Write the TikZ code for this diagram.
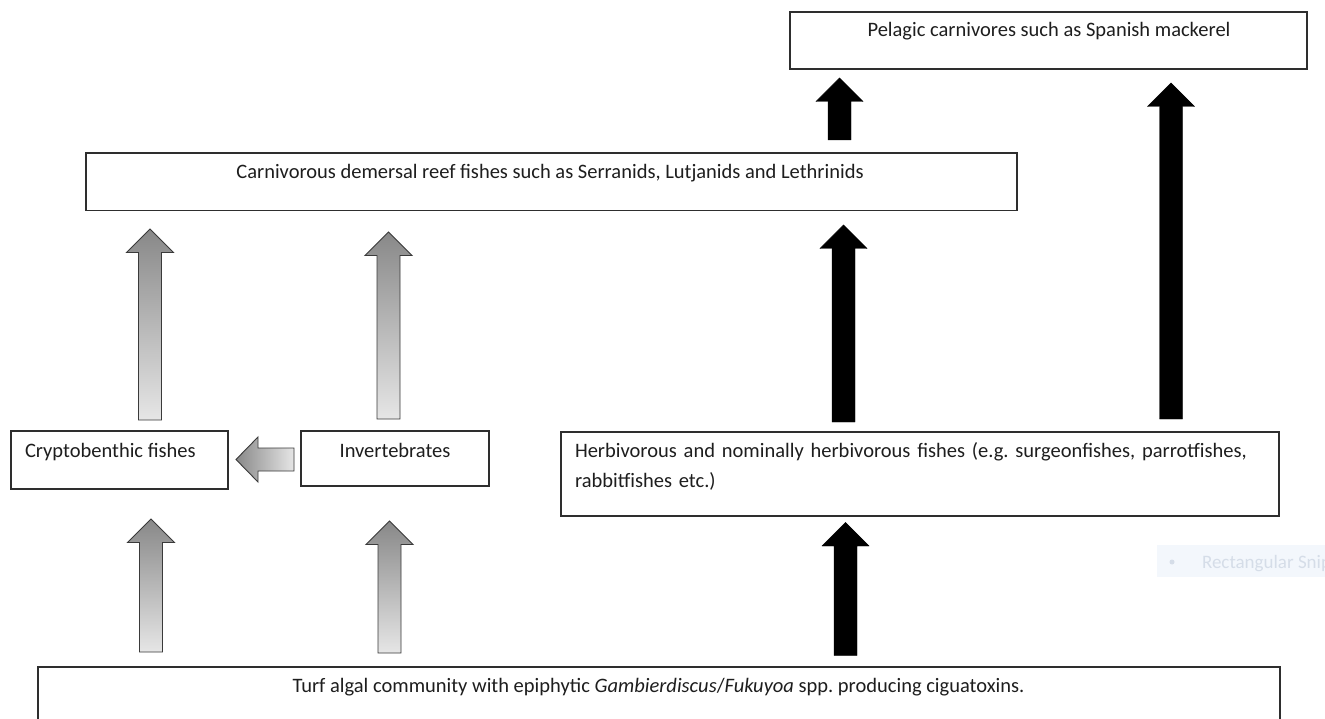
\documentclass[tikz,border=0pt]{standalone}
\usepackage{fontspec}
\setmainfont{Carlito}
\frenchspacing
\usetikzlibrary{calc}
\definecolor{gdark}{HTML}{888888}
\definecolor{glight}{HTML}{E6E6E6}
\definecolor{gline}{HTML}{3A3A3A}
\definecolor{boxline}{HTML}{2E2E2E}
\definecolor{txtc}{HTML}{1E1E1E}
\definecolor{snipbg}{HTML}{F3F7FC}
\definecolor{snipfg}{HTML}{D5DDE8}
\newcommand\blkup[3]{\path[#1] let \p1=(#2), \p2=(#3) in
  (\x1-11.5pt,\y1) -- (\x1-11.5pt,\y2-23.5pt) -- (\x1-23.5pt,\y2-23.5pt) -- (\x1,\y2)
  -- (\x1+23.5pt,\y2-23.5pt) -- (\x1+11.5pt,\y2-23.5pt) -- (\x1+11.5pt,\y1) -- cycle;}
\newcommand\blkleft[3]{\path[#1] let \p1=(#2), \p2=(#3) in
  (\x1,\y1+11.5pt) -- (\x2+22pt,\y1+11.5pt) -- (\x2+22pt,\y1+22.5pt) -- (\x2,\y1)
  -- (\x2+22pt,\y1-22.5pt) -- (\x2+22pt,\y1-11.5pt) -- (\x1,\y1-11.5pt) -- cycle;}
\begin{document}
\begin{tikzpicture}[x=1pt,y=-1pt,
  box/.style={draw=boxline, line width=1.3pt, rectangle, inner sep=0pt, outer sep=0pt, anchor=north west},
  txt/.style={inner sep=0pt, outer sep=0pt, text=txtc, font=\fontsize{20.5}{30}\selectfont\frenchspacing},
  garrow/.style={draw=gline, line width=0.9pt, top color=gdark, bottom color=glight},
  garrowh/.style={draw=gline, line width=0.9pt, left color=gdark, right color=glight},
  barrow/.style={fill=black, draw=black, line width=0.4pt}]
\useasboundingbox (0,0) rectangle (1325,719);
\fill[white] (0,0) rectangle (1325,719);
\clip (0,0) rectangle (1325,719);

% boxes
\node[box, minimum width=517, minimum height=57] (pel) at (790,12) {};
\node[box, minimum width=931, minimum height=57.5] (carn) at (86,153) {};
\node[box, minimum width=217, minimum height=58] (crypt) at (11,431) {};
\node[box, minimum width=188, minimum height=55] (inv) at (301,431) {};
\node[box, minimum width=718, minimum height=84] (herb) at (561,432) {};
\node[box, minimum width=1242, minimum height=80] (bot) at (38,667) {};

% texts
\node[txt, anchor=base] (pelt) at (1049,37) {Pelagic carnivores such as Spanish mackerel};
\node[txt, anchor=base] (carnt) at (550,179) {Carnivorous demersal reef fishes such as Serranids, Lutjanids and Lethrinids};
\node[txt, anchor=base west] (cryptt) at (25,457) {Cryptobenthic fishes};
\node[txt, anchor=base] (invt) at (395,457) {Invertebrates};
\node[txt, anchor=base west, text width=780, align=left] (herbt) at (575,457) {Herbivorous and nominally herbivorous fishes (e.g. surgeonfishes, parrotfishes,\\rabbitfishes etc.)};
\node[txt, anchor=base] (bott) at (658.5,692) {Turf algal community with epiphytic \textit{Gambierdiscus}/\textit{Fukuyoa} spp. producing ciguatoxins.};

% faint screen-capture tooltip
\fill[snipbg] (1157,545) rectangle (1330,577);
\fill[snipfg] (1172,562) circle (2.5);
\node[txt, text=snipfg, anchor=base west, font=\fontsize{19}{23}\selectfont] (snip) at (1202,568) {Rectangular Snip};

% arrow end points
\coordinate (g1s) at (151,652);   \coordinate (g1e) at (151,519);
\coordinate (g2s) at (389.5,653); \coordinate (g2e) at (389.5,521);
\coordinate (g3s) at (150,420);   \coordinate (g3e) at (150,229);
\coordinate (g4s) at (388.5,419); \coordinate (g4e) at (388.5,232);
\coordinate (gls) at (294,459.5); \coordinate (gle) at (236,459.5);
\coordinate (b1s) at (845.5,655.5); \coordinate (b1e) at (845.5,522.5);
\coordinate (b2s) at (843.5,422); \coordinate (b2e) at (843.5,225);
\coordinate (b3s) at (839.5,140); \coordinate (b3e) at (839.5,78);
\coordinate (b4s) at (1171,419);  \coordinate (b4e) at (1171,83);

% gray block arrows
\blkup{garrow}{g1s}{g1e}
\blkup{garrow}{g2s}{g2e}
\blkup{garrow}{g3s}{g3e}
\blkup{garrow}{g4s}{g4e}
\blkleft{garrowh}{gls}{gle}

% black block arrows
\blkup{barrow}{b1s}{b1e}
\blkup{barrow}{b2s}{b2e}
\blkup{barrow}{b3s}{b3e}
\blkup{barrow}{b4s}{b4e}
\end{tikzpicture}
\end{document}
